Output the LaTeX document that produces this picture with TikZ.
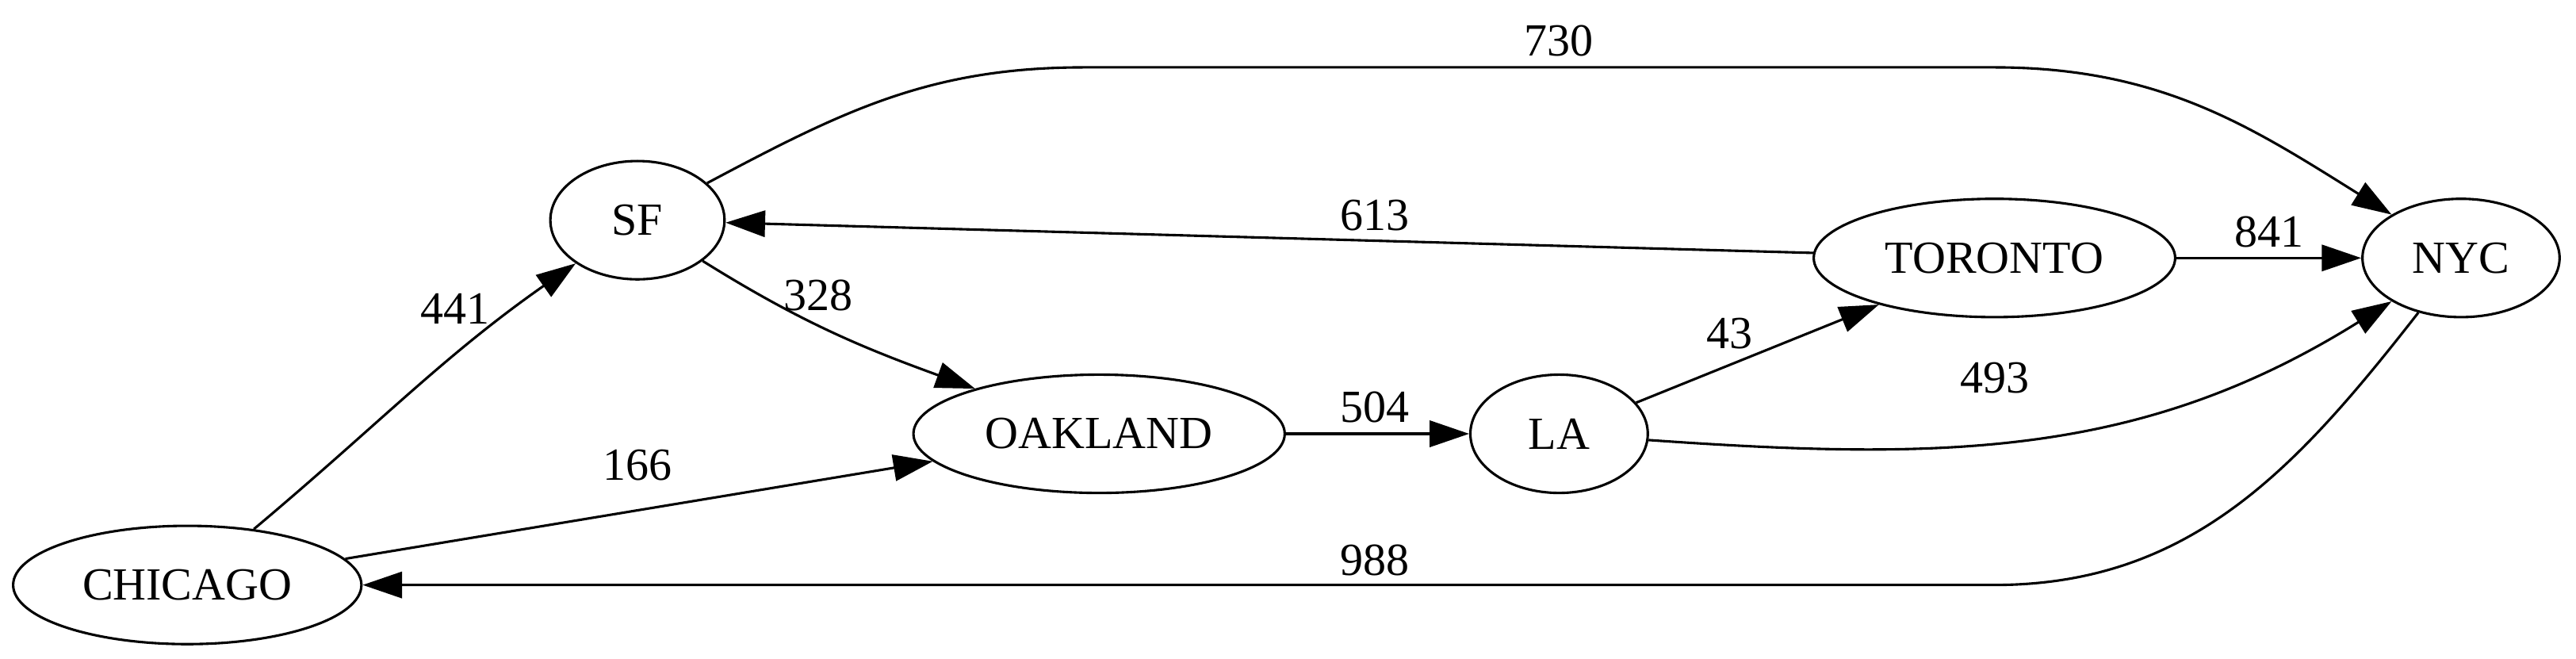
\documentclass[tikz,border=0pt]{standalone}
\usepackage{fontspec}
\setmainfont{Liberation Serif}
\usetikzlibrary{arrows.meta,shapes.geometric}
\begin{document}
\begin{tikzpicture}[x=0.5pt,y=0.5pt,
        city/.style={draw,ellipse,line width=0.75pt,inner sep=0pt,minimum height=36pt,font=\fontsize{14}{17}\selectfont},
        road/.style={line width=0.75pt,-{Triangle[length=12pt,width=8pt]}},
        dist/.style={inner sep=0pt,font=\fontsize{14}{17}\selectfont}]
        \useasboundingbox (0,0) rectangle (1568,401);

        \node[city,minimum width=106pt] (chicago) at (114,45) {CHICAGO};
        \node[city,minimum width=53pt] (sf) at (388,267) {SF};
        \node[city,minimum width=113pt] (oakland) at (669,137) {OAKLAND};
        \node[city,minimum width=54pt] (la) at (949,137) {LA};
        \node[city,minimum width=110pt] (toronto) at (1214,244) {TORONTO};
        \node[city,minimum width=60pt] (nyc) at (1498,244) {NYC};

        \draw[road] (chicago) to[out=40,in=215] (sf);
        \draw[road] (sf) to[out=28,in=180] (660,360) -- (1214,360) to[out=0,in=148] (nyc);
        \draw[road] (toronto) -- (sf);
        \draw[road] (sf) to[out=-32,in=160] (oakland);
        \draw[road] (chicago) -- (oakland);
        \draw[road] (oakland) -- (la);
        \draw[road] (la) -- (toronto);
        \draw[road] (la) to[out=-4,in=212] (nyc);
        \draw[road] (toronto) -- (nyc);
        \draw[road] (nyc) to[out=232,in=0] (1214,45) -- (chicago);

        \node[dist] (d730) at (949,376) {730};
        \node[dist] (d613) at (837,270) {613};
        \node[dist] (d841) at (1381,260) {841};
        \node[dist] (d441) at (277,213) {441};
        \node[dist] (d328) at (498,221) {328};
        \node[dist] (d43) at (1053,198) {43};
        \node[dist] (d493) at (1214,171) {493};
        \node[dist] (d504) at (837,153) {504};
        \node[dist] (d166) at (388,118) {166};
        \node[dist] (d988) at (837,60) {988};
\end{tikzpicture}
\end{document}
